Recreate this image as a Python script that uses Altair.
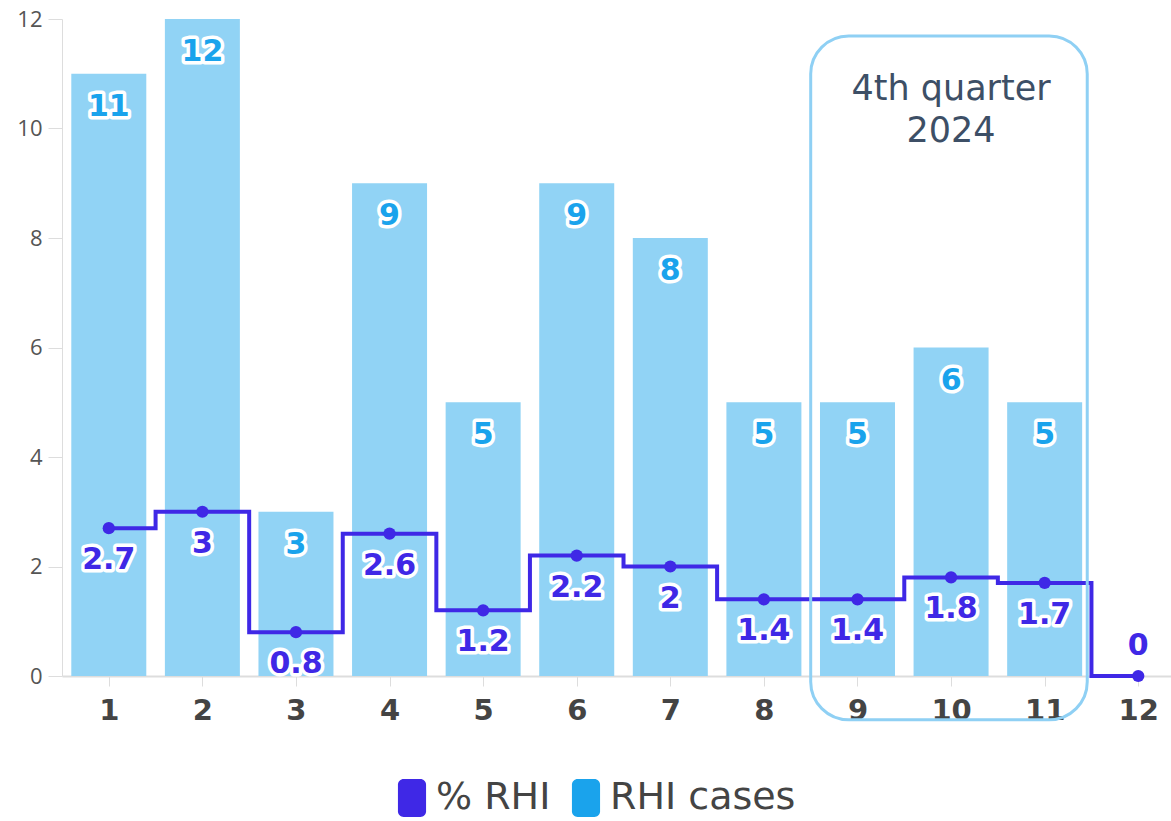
import altair as alt
import pandas as pd

months = list(range(1, 13))
rhi_cases = [11, 12, 3, 9, 5, 9, 8, 5, 5, 6, 5, None]
pct_rhi = [2.7, 3, 0.8, 2.6, 1.2, 2.2, 2, 1.4, 1.4, 1.8, 1.7, 0]
series_names = ["% RHI", "RHI cases"]
series_colors = ["#3f28e6", "#1aa3ec"]

annot_text = "4th quarter\n2024"
annot_x0, annot_x1 = 8.5, 11.455
annot_y0, annot_y1 = -0.8, 11.69
annot_tx, annot_ty = 10, 10.52

df = pd.DataFrame({"month": months, "cases": rhi_cases, "pct": pct_rhi})
df["series"] = "% RHI"
ann = pd.DataFrame({"x0": [annot_x0], "x1": [annot_x1], "y0": [annot_y0], "y1": [annot_y1],
                    "tx": [annot_tx], "ty": [annot_ty], "t": [annot_text]})

xs = alt.Scale(domain=[0.5, 12.35], nice=False, zero=False, padding=0)
ys = alt.Scale(domain=[0, 12], nice=False, padding=0)

xax = alt.Axis(values=months, format="d", title=None, grid=False, domainColor="#dddddd",
               domainWidth=2, tickColor="#dddddd", tickSize=10, labelFont="DejaVu Sans",
               labelFontWeight="bold", labelFontSize=29, labelColor="#444444", labelPadding=10)
yax = alt.Axis(values=[0, 2, 4, 6, 8, 10, 12], format="d", title=None, grid=False,
               domainColor="#dddddd", tickColor="#dddddd", tickSize=14, labelFont="Open Sans",
               labelFontSize=22, labelColor="#555555", labelPadding=6)

base = alt.Chart(df)
bar_data = base.transform_filter("isValid(datum.cases)")

bars = bar_data.mark_bar(size=75, color="#91d3f5").encode(
    x=alt.X("month:Q", scale=xs, axis=xax),
    y=alt.Y("cases:Q", scale=ys, axis=yax),
)

def halo_text(chart, field, color, dy):
    common = dict(font="DejaVu Sans", fontWeight="bold", fontSize=30, baseline="middle", dy=dy)
    halo = chart.mark_text(stroke="white", strokeWidth=7, strokeJoin="round", fill="white", **common).encode(
        x=alt.X("month:Q", scale=xs), y=alt.Y(f"{field}:Q", scale=ys), text=alt.Text(f"{field}:Q"))
    fg = chart.mark_text(fill=color, **common).encode(
        x=alt.X("month:Q", scale=xs), y=alt.Y(f"{field}:Q", scale=ys), text=alt.Text(f"{field}:Q"))
    return [halo, fg]

bar_labels = halo_text(bar_data, "cases", "#1aa3ec", 33)

line = base.mark_line(interpolate="step", color="#3f28e6", strokeWidth=4).encode(
    x=alt.X("month:Q", scale=xs), y=alt.Y("pct:Q", scale=ys))

points = base.mark_point(filled=True, size=150, opacity=1).encode(
    x=alt.X("month:Q", scale=xs), y=alt.Y("pct:Q", scale=ys),
    color=alt.Color("series:N", scale=alt.Scale(domain=series_names, range=series_colors),
                    legend=alt.Legend(title=None, orient="none", legendX=331, legendY=760,
                                      direction="horizontal",
                                      symbolType="M-0.44,-1 H0.44 A0.3,0.3 0 0 1 0.74,-0.7 V0.7 A0.3,0.3 0 0 1 0.44,1 H-0.44 A0.3,0.3 0 0 1 -0.74,0.7 V-0.7 A0.3,0.3 0 0 1 -0.44,-1 Z",
                                      symbolSize=1444, symbolOpacity=1, symbolStrokeWidth=0,
                                      labelFont="DejaVu Sans", labelFontSize=38, labelColor="#444444",
                                      labelOffset=5, columnPadding=16, padding=0,
                                      labelLimit=400)))

pct_pos = base.transform_filter("datum.pct > 0")
pct_zero = base.transform_filter("datum.pct <= 0")
pct_labels = halo_text(pct_pos, "pct", "#3f28e6", 32) + halo_text(pct_zero, "pct", "#3f28e6", -30)

box = alt.Chart(ann).mark_rect(fill=None, fillOpacity=0, stroke="#8fd0f4", strokeWidth=3,
                               cornerRadius=38).encode(
    x=alt.X("x0:Q", scale=xs), x2="x1:Q", y=alt.Y("y0:Q", scale=ys), y2="y1:Q")
box_text = alt.Chart(ann).mark_text(lineBreak="\n", lineHeight=42, font="DejaVu Sans", fontSize=35,
                                    color="#3d4f66", baseline="alphabetic", align="center").encode(
    x=alt.X("tx:Q", scale=xs), y=alt.Y("ty:Q", scale=ys), text="t:N")

chart = alt.layer(bars, *bar_labels, line, points, *pct_labels, box, box_text).properties(
    width=1109, height=657,
    padding={"left": 62, "top": 19, "right": 0, "bottom": 145},
    autosize=alt.AutoSizeParams(type="none"),
).configure_view(stroke=None)

chart.save("out.html", embed_options={"renderer": "svg", "actions": False})
